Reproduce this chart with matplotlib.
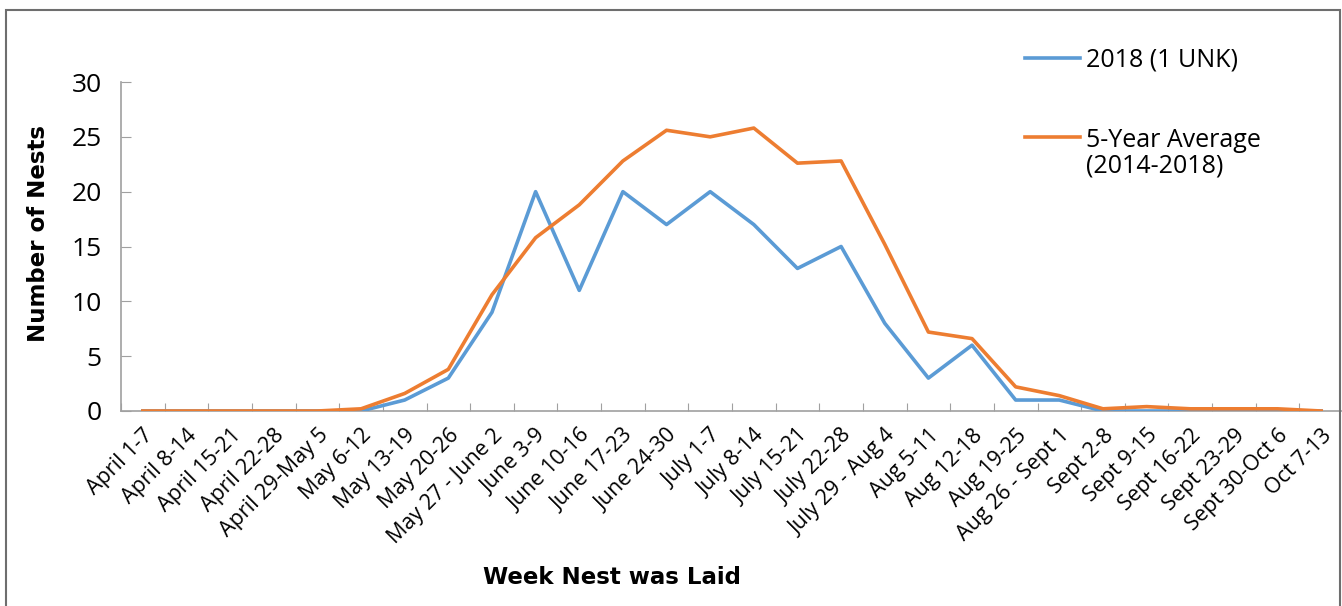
import matplotlib.pyplot as plt
from matplotlib.patches import Rectangle
from matplotlib.legend_handler import HandlerLine2D

weeks = [
    "April 1-7", "April 8-14", "April 15-21", "April 22-28", "April 29-May 5",
    "May 6-12", "May 13-19", "May 20-26", "May 27 - June 2", "June 3-9",
    "June 10-16", "June 17-23", "June 24-30", "July 1-7", "July 8-14",
    "July 15-21", "July 22-28", "July 29 - Aug 4", "Aug 5-11", "Aug 12-18",
    "Aug 19-25", "Aug 26 - Sept 1", "Sept 2-8", "Sept 9-15", "Sept 16-22",
    "Sept 23-29", "Sept 30-Oct 6", "Oct 7-13",
]
nests_2018 = [0, 0, 0, 0, 0, 0, 1, 3, 9, 20, 11, 20, 17, 20, 17, 13, 15, 8,
              3, 6, 1, 1, 0, 0, 0, 0, 0, 0]
avg_5yr = [0, 0, 0, 0, 0, 0.2, 1.6, 3.8, 10.6, 15.8, 18.8, 22.8, 25.6, 25.0,
           25.8, 22.6, 22.8, 15.2, 7.2, 6.6, 2.2, 1.4, 0.2, 0.4, 0.2, 0.2,
           0.2, 0]

plt.rcParams["font.family"] = ["Open Sans", "DejaVu Sans"]


class FirstLineHandler(HandlerLine2D):
    # put the legend line next to the first text line, like Excel does
    def __init__(self, shift, **kw):
        super().__init__(**kw)
        self.shift = shift

    def create_artists(self, legend, orig_handle, xdescent, ydescent,
                       width, height, fontsize, trans):
        arts = super().create_artists(legend, orig_handle, xdescent, ydescent,
                                      width, height, fontsize, trans)
        for a in arts:
            a.set_ydata([y + self.shift for y in a.get_ydata()])
        return arts


fig = plt.figure(figsize=(13.42, 6.06), dpi=100)
ax = fig.add_axes([121 / 1342, 195 / 606, 1222 / 1342, 329 / 606])

x = list(range(len(weeks)))
l1, = ax.plot(x, nests_2018, color="#5B9BD5", lw=2.6, label="2018 (1 UNK)",
              zorder=3)
l2, = ax.plot(x, avg_5yr, color="#ED7D31", lw=2.6,
              label="5-Year Average\n(2014-2018)", zorder=4)

ax.set_xlim(-0.5, len(weeks) - 0.5)
ax.set_ylim(0, 30)
ax.set_yticks(range(0, 31, 5))
ax.set_xticks([i - 0.5 for i in range(len(weeks) + 1)], minor=False)
ax.set_xticklabels([])
ax.set_xticks(x, minor=True)
ax.set_xticklabels(weeks, minor=True, rotation=45, ha="right",
                   rotation_mode="anchor", fontsize=15.5)
ax.tick_params(axis="x", which="minor", length=0, pad=10)
ax.tick_params(axis="x", which="major", direction="in", length=6,
               color="#A0A0A0")
ax.tick_params(axis="y", direction="in", length=7, color="#A0A0A0",
               labelsize=19, pad=14)

for s in ["top", "right"]:
    ax.spines[s].set_visible(False)
for s in ["left", "bottom"]:
    ax.spines[s].set_color("#A0A0A0")
    ax.spines[s].set_linewidth(1.2)

ax.set_ylabel("Number of Nests", fontsize=16.5, fontweight="bold",
              family="DejaVu Sans")
ax.yaxis.set_label_coords(-71 / 1222, 0.54)
fig.text(612 / 1342, 1 - 578 / 606, "Week Nest was Laid", fontsize=16.5,
         fontweight="bold", family="DejaVu Sans", ha="center", va="center")

leg = ax.legend(loc="upper left", bbox_to_anchor=(1002 / 1342, 1 - 25 / 606),
                bbox_transform=fig.transFigure, frameon=False, fontsize=18,
                handlelength=2.2, handletextpad=0.25, labelspacing=2.2,
                handler_map={l2: FirstLineHandler(shift=11.7)})
leg.get_texts()[1].set_linespacing(1.05)

fig.add_artist(Rectangle((6 / 1342, -0.05), 1334 / 1342, 1.05 - 10 / 606,
                         transform=fig.transFigure, fill=False,
                         edgecolor="#6E6E6E", lw=1.5))

fig.savefig("out.png", dpi=100)
